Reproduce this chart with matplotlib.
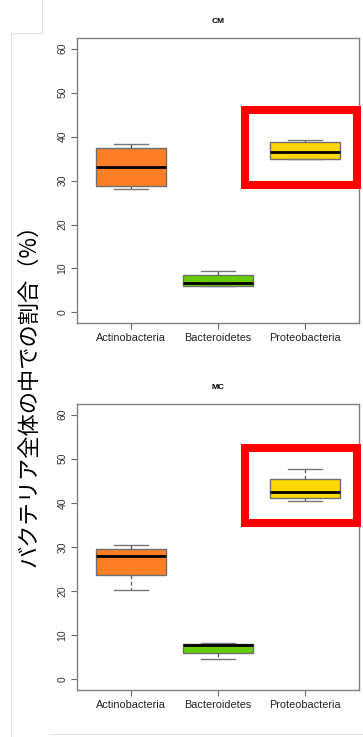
import matplotlib.pyplot as plt
from matplotlib.patches import Rectangle
from matplotlib.lines import Line2D

plt.rcParams['font.family'] = ['Liberation Sans', 'DejaVu Sans']

phyla = ['Actinobacteria', 'Bacteroidetes', 'Proteobacteria']
box_colors = ['#FF7F27', '#66CC00', '#FFD700']

# five-number summaries per phylum: whisker low, q1, median, q3, whisker high
cm_whislo = [28.0, 6.0, 34.8]
cm_q1     = [28.7, 6.05, 34.8]
cm_med    = [33.0, 6.8, 36.5]
cm_q3     = [37.3, 8.5, 38.7]
cm_whishi = [38.2, 9.5, 39.3]

mc_whislo = [20.3, 4.7, 40.3]
mc_q1     = [23.7, 6.05, 41.0]
mc_med    = [27.9, 7.7, 42.5]
mc_q3     = [29.5, 8.1, 45.3]
mc_whishi = [30.5, 8.3, 47.7]

yticks = [0, 10, 20, 30, 40, 50, 60]
ylabel = 'バクテリア全体の中での割合（%）'


def stats(lo, q1, med, q3, hi):
    return [dict(label=n, whislo=a, q1=b, med=c, q3=d, whishi=e)
            for n, a, b, c, d, e in zip(phyla, lo, q1, med, q3, hi)]


fig = plt.figure(figsize=(3.63, 7.37), dpi=100)

panels = [
    ('CM', stats(cm_whislo, cm_q1, cm_med, cm_q3, cm_whishi), [0.2121, 0.5617, 0.7769, 0.3867]),
    ('MC', stats(mc_whislo, mc_q1, mc_med, mc_q3, mc_whishi), [0.2121, 0.0638, 0.7769, 0.3881]),
]

for title, st, rect in panels:
    ax = fig.add_axes(rect)
    bp = ax.bxp(st, widths=0.8, patch_artist=True, showfliers=False,
                boxprops=dict(edgecolor='#707070', linewidth=1.0),
                medianprops=dict(color='black', linewidth=2.0),
                whiskerprops=dict(color='#555555', linewidth=0.9, linestyle=(0, (3, 2))),
                capprops=dict(color='#777777', linewidth=1.0),
                capwidths=0.4)
    for patch, c in zip(bp['boxes'], box_colors):
        patch.set_facecolor(c)
    ax.set_xlim(0.38, 3.62)
    ax.set_ylim(-2.4, 62.4)
    ax.set_yticks(yticks)
    ax.set_yticklabels([str(v) for v in yticks], rotation=90, va='center',
                       fontsize=7.5, color='#333333')
    ax.set_xticks([1, 2, 3])
    ax.set_xticklabels(phyla, fontsize=7.8, color='#222222')
    ax.tick_params(axis='both', length=4, color='#666666', width=0.8)
    ax.tick_params(axis='x', pad=3)
    ax.tick_params(axis='y', pad=3)
    for s in ax.spines.values():
        s.set_color('#808080')
        s.set_linewidth(1.0)
    ax.set_title(title, fontsize=6, fontweight='bold', pad=11)

# red highlight frames around Proteobacteria
for y0 in [0.749, 0.2904]:
    fig.patches.append(Rectangle((0.675, y0), 0.3085, 0.1015, transform=fig.transFigure,
                                 fill=False, edgecolor='#FF0000', linewidth=5.8))

# faint page borders
border = '#E2E2E2'
fig.lines.append(Line2D([11/363, 11/363], [0, 1 - 33/737], transform=fig.transFigure, color=border, lw=0.8))
fig.lines.append(Line2D([11/363, 42/363], [1 - 33/737, 1 - 33/737], transform=fig.transFigure, color=border, lw=0.8))
fig.lines.append(Line2D([42/363, 42/363], [1 - 33/737, 1], transform=fig.transFigure, color=border, lw=0.8))
fig.lines.append(Line2D([50/363, 1], [3/737, 3/737], transform=fig.transFigure, color=border, lw=0.8))

fig.text(29/363, 1 - 390/737, ylabel, rotation=90, ha='center', va='center',
         fontsize=16, family=['Noto Sans CJK JP', 'DejaVu Sans'], color='black')

fig.savefig('out.png', dpi=100)
